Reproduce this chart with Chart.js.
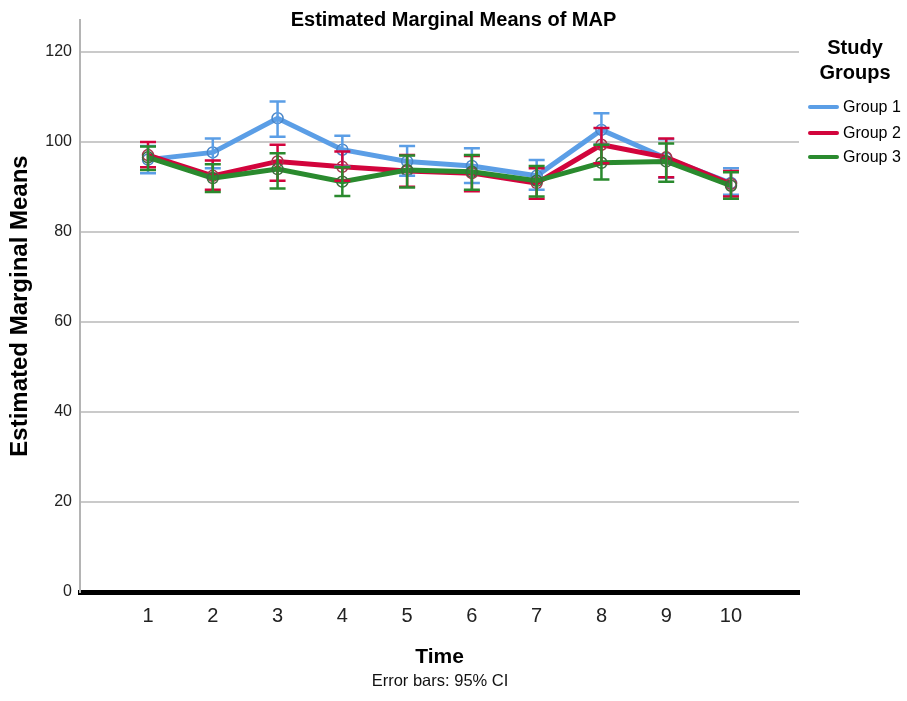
<!DOCTYPE html>
<html>
<head>
<meta charset="utf-8">
<script src="https://cdn.jsdelivr.net/npm/chart.js@4/dist/chart.umd.min.js"></script>
<style>
  html, body { margin: 0; padding: 0; background: #fff; }
  #wrap { position: relative; width: 907px; height: 701px; overflow: hidden; }
  #c { position: absolute; left: 0; top: 0; }
  .t { position: absolute; white-space: nowrap; color: #000; font-family: "Liberation Sans", Arial, sans-serif; }
  #title { left: 0; width: 907px; top: 8px; text-align: center; font-weight: bold; font-size: 20px; }
  #ltitle { left: 800px; width: 110px; top: 35px; text-align: center; font-weight: bold; font-size: 20px; line-height: 25px; }
  .li { position: absolute; left: 808px; width: 31px; height: 4px; border-radius: 2px; }
  .lt { left: 843px; font-size: 16px; }
  #note { left: 240px; width: 400px; text-align: center; top: 671px; font-size: 16.5px; color: #111; }
</style>
</head>
<body>
<div id="wrap">
  <canvas id="c" width="907" height="701"></canvas>
  <div class="t" id="title">Estimated Marginal Means of MAP</div>
  <div class="t" id="ltitle">Study<br>Groups</div>
  <div class="li" style="top:105px;background:#5b9ee6"></div>
  <div class="t lt" style="top:98px">Group 1</div>
  <div class="li" style="top:131px;background:#d2043c"></div>
  <div class="t lt" style="top:124px">Group 2</div>
  <div class="li" style="top:155px;background:#2a8a2e"></div>
  <div class="t lt" style="top:148px">Group 3</div>
  <div class="t" id="note">Error bars: 95% CI</div>
</div>
<script>
const timeLabels = [1, 2, 3, 4, 5, 6, 7, 8, 9, 10];
const yTicks = [0, 20, 40, 60, 80, 100, 120];

const group1Mean  = [96.0, 97.6, 105.2, 98.2, 95.6, 94.6, 92.4, 102.6, 96.3, 90.8];
const group1Lower = [93.0, 94.1, 101.1, 94.4, 92.4, 90.8, 89.3, 99.3, 92.0, 88.2];
const group1Upper = [99.0, 100.7, 108.9, 101.3, 99.0, 98.5, 95.9, 106.3, 100.5, 94.1];

const group2Mean  = [97.0, 92.4, 95.6, 94.4, 93.5, 93.0, 90.8, 99.3, 96.5, 90.6];
const group2Lower = [94.3, 89.3, 91.3, 91.3, 90.0, 89.0, 87.3, 95.2, 92.1, 87.8];
const group2Upper = [99.9, 95.8, 99.3, 97.8, 97.0, 96.8, 94.1, 103.0, 100.7, 93.5];

const group3Mean  = [96.5, 91.9, 93.9, 91.1, 93.7, 93.3, 91.3, 95.3, 95.6, 90.2];
const group3Lower = [93.7, 88.8, 89.6, 87.9, 89.8, 89.3, 87.8, 91.6, 91.1, 87.3];
const group3Upper = [98.9, 95.0, 97.4, 94.3, 96.9, 97.0, 94.6, 99.3, 99.6, 93.2];

const seriesNames = ['Group 1', 'Group 2', 'Group 3'];

function pts(means) { return timeLabels.map((t, i) => ({ x: t, y: means[i] })); }

const groups = [
  { name: seriesNames[0], mean: group1Mean, lo: group1Lower, hi: group1Upper, color: '#5b9ee6', pt: '#4a86c8', order: 3 },
  { name: seriesNames[1], mean: group2Mean, lo: group2Lower, hi: group2Upper, color: '#d2043c', pt: '#a8324a', order: 2 },
  { name: seriesNames[2], mean: group3Mean, lo: group3Lower, hi: group3Upper, color: '#2a8a2e', pt: '#3d6b3d', order: 1 }
];

const errorBars = {
  id: 'errorBars',
  afterDatasetsDraw(chart) {
    const ctx = chart.ctx;
    const xs = chart.scales.x, ys = chart.scales.y;
    ctx.save();
    for (let g = 0; g < groups.length; g++) {
      const grp = groups[g];
      ctx.strokeStyle = grp.color;
      ctx.lineWidth = 2.5;
      for (let i = 0; i < timeLabels.length; i++) {
        const x = xs.getPixelForValue(timeLabels[i]);
        const y1 = ys.getPixelForValue(grp.lo[i]);
        const y2 = ys.getPixelForValue(grp.hi[i]);
        ctx.beginPath();
        ctx.moveTo(x, y1); ctx.lineTo(x, y2);
        ctx.moveTo(x - 8, y1); ctx.lineTo(x + 8, y1);
        ctx.moveTo(x - 8, y2); ctx.lineTo(x + 8, y2);
        ctx.stroke();
      }
    }
    ctx.restore();
  }
};

new Chart(document.getElementById('c'), {
  type: 'line',
  data: {
    datasets: groups.map(g => ({
      label: g.name,
      data: pts(g.mean),
      borderColor: g.color,
      backgroundColor: g.color,
      borderWidth: 5,
      tension: 0,
      pointRadius: 5.5,
      pointBorderWidth: 1.5,
      pointBorderColor: g.pt,
      pointBackgroundColor: 'rgba(0,0,0,0)',
      order: g.order
    }))
  },
  options: {
    responsive: false,
    animation: false,
    events: [],
    layout: { padding: { left: 0, top: 20, right: 108, bottom: 0 } },
    plugins: { legend: { display: false }, tooltip: { enabled: false }, title: { display: false } },
    scales: {
      x: {
        type: 'linear',
        min: -0.05,
        max: 11.05,
        afterFit(s) { s.height = 109; },
        afterBuildTicks(s) { s.ticks = timeLabels.map(v => ({ value: v })); },
        grid: { display: false, drawTicks: false },
        border: { display: true, color: '#000', width: 5 },
        ticks: {
          padding: 12,
          color: '#222',
          font: { family: '"Liberation Sans", Arial', size: 20 },
          callback: (v) => String(v)
        },
        title: {
          display: true,
          text: 'Time',
          color: '#000',
          font: { family: '"Liberation Sans", Arial', size: 21, weight: 'bold' },
          padding: { top: 0, bottom: 31 }
        }
      },
      y: {
        min: 0,
        max: 127,
        afterFit(s) { s.width = 80; },
        afterBuildTicks(s) { s.ticks = yTicks.map(v => ({ value: v })); },
        grid: {
          drawTicks: false,
          lineWidth: 2,
          color: (c) => (c.tick && c.tick.value === 0) ? 'rgba(0,0,0,0)' : '#cacaca'
        },
        border: { display: true, color: '#b4b4b4', width: 2 },
        ticks: {
          padding: 8,
          color: '#222',
          font: { family: '"Liberation Sans", Arial', size: 16 }
        },
        title: {
          display: true,
          text: 'Estimated Marginal Means',
          color: '#000',
          font: { family: '"Liberation Sans", Arial', size: 24, weight: 'bold' },
          padding: { top: 6, bottom: 0 }
        }
      }
    }
  },
  plugins: [errorBars]
});
</script>
</body>
</html>
